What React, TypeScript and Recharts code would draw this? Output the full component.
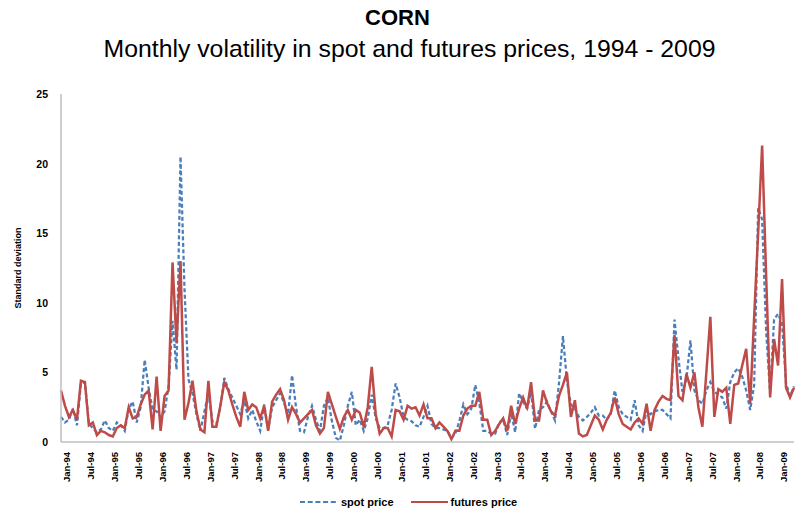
import React from 'react';
import { LineChart, Line, XAxis, YAxis } from 'recharts';

const monthNames = ['Jan', 'Feb', 'Mar', 'Apr', 'May', 'Jun', 'Jul', 'Aug', 'Sep', 'Oct', 'Nov', 'Dec'];
const yearLabels = ['94', '95', '96', '97', '98', '99', '00', '01', '02', '03', '04', '05', '06', '07', '08', '09'];

// monthly standard deviation, Jan-94 .. May-09
const spotPrice = [
  1.8, 1.4, 1.6, 2.4, 1.2, 4.2, 4.3, 1.3, 1.0, 0.7, 0.9, 1.55,
  1.0, 0.8, 1.4, 1.2, 0.8, 2.4, 2.9, 1.4, 2.5, 5.9, 3.9, 2.3,
  2.2, 1.8, 2.2, 4.0, 8.7, 5.2, 20.5, 11.0, 4.5, 3.5, 2.0, 0.8,
  2.2, 3.5, 1.5, 1.3, 2.5, 4.6, 3.8, 3.2, 2.6, 2.0, 3.0, 1.7,
  2.3, 1.5, 0.8, 2.7, 0.9, 2.5, 3.0, 3.5, 2.8, 2.0, 4.8, 2.5,
  0.8, 0.7, 1.8, 2.6, 1.6, 0.8, 2.6, 3.2, 1.5, 0.3, 0.1, 1.2,
  2.6, 3.6, 1.2, 1.6, 0.8, 1.7, 3.4, 1.7, 1.0, 1.0, 1.2, 2.3,
  4.2, 3.2, 1.8, 1.6, 1.5, 1.2, 1.1, 1.8, 2.6, 1.3, 1.0, 1.0,
  0.9, 0.8, 0.3, 0.6, 1.5, 2.7, 2.0, 2.4, 4.1, 2.8, 0.8, 0.8,
  0.6, 0.6, 1.4, 1.6, 0.5, 2.1, 0.7, 3.5, 2.9, 2.4, 3.6, 0.95,
  2.3, 2.5, 2.9, 2.2, 1.55, 4.2, 7.6, 4.4, 2.7, 2.4, 1.8, 1.55,
  1.8, 2.1, 2.5, 1.9, 1.9, 1.6, 2.0, 3.7, 2.5, 2.0, 1.8, 1.6,
  3.0, 1.2, 0.8, 2.3, 2.0, 2.2, 2.3, 2.3, 2.0, 1.7, 8.8, 6.0,
  3.6, 4.5, 7.3, 3.7, 3.0, 2.75, 3.7, 4.3, 3.6, 3.4, 3.2, 2.4,
  4.3, 5.0, 5.3, 4.7, 3.7, 2.3, 4.1, 16.8, 16.0, 8.0, 3.5, 8.8,
  9.2, 8.5, 4.2, 3.3, 4.0,
];

const futuresPrice = [
  3.7, 2.6, 1.8, 2.3, 1.6, 4.4, 4.3, 1.2, 1.4, 0.5, 0.8, 0.7,
  0.5, 0.4, 1.0, 1.2, 1.0, 2.5, 1.7, 1.8, 2.7, 3.4, 3.7, 0.9,
  4.7, 0.8, 3.3, 3.7, 12.9, 7.1, 13.0, 1.6, 2.8, 4.4, 2.2, 0.9,
  0.7, 4.4, 1.1, 1.1, 2.6, 4.3, 3.7, 2.7, 1.8, 1.1, 3.6, 2.3,
  2.7, 2.5, 1.7, 2.6, 0.8, 2.9, 3.4, 3.8, 3.0, 1.6, 2.5, 2.0,
  1.4, 1.7, 2.0, 2.3, 1.2, 0.6, 1.0, 3.6, 2.7, 1.8, 0.95, 1.8,
  2.3, 1.6, 2.3, 2.1, 1.1, 2.5, 5.4, 2.0, 0.6, 1.0, 1.0, 0.4,
  2.3, 2.2, 1.6, 2.6, 2.4, 2.5, 1.9, 2.7, 1.7, 1.7, 1.0, 1.4,
  1.1, 0.8, 0.2, 0.8, 0.8, 1.9, 2.4, 2.6, 2.6, 3.6, 1.6, 1.6,
  0.5, 0.8, 1.3, 1.7, 0.8, 2.6, 1.3, 2.4, 3.2, 2.4, 4.3, 1.55,
  1.55, 3.7, 2.8, 2.2, 1.9, 3.3, 4.1, 5.0, 1.8, 3.0, 0.6, 0.4,
  0.5, 1.2, 1.9, 1.6, 0.9, 1.6, 2.1, 3.2, 2.0, 1.3, 1.1, 0.9,
  1.4, 1.7, 1.3, 2.75, 0.8, 2.3, 2.9, 3.3, 3.1, 3.0, 7.7, 3.3,
  3.0, 4.9, 3.9, 5.0, 2.5, 1.1, 5.0, 9.0, 1.8, 3.8, 3.6, 3.9,
  1.3, 4.1, 4.2, 5.5, 6.7, 2.8, 9.0, 15.0, 21.3, 12.0, 3.2, 7.4,
  5.5, 11.7, 3.9, 3.2, 3.9,
];

const yTicks = [0, 5, 10, 15, 20, 25];

const categories = spotPrice.map((_, i) => `${monthNames[i % 12]}-${yearLabels[Math.floor(i / 12)]}`);
const chartData = categories.map((month, i) => ({ month, spot: spotPrice[i], futures: futuresPrice[i] }));

const SPOT_COLOR = '#4A7EBB';
const FUTURES_COLOR = '#BE4B48';
const FONT = '"Liberation Sans", Arial, sans-serif';

const XTick = ({ x, y, payload }: any) => {
  const tx = x + 6;
  const ty = y + 10;
  return (
    <text
      x={tx}
      y={ty}
      dy="0.35em"
      transform={`rotate(-90, ${tx}, ${ty})`}
      textAnchor="end"
      fontSize={9.5}
      fontWeight="bold"
      fontFamily={FONT}
      fill="#000"
    >
      {payload.value}
    </text>
  );
};

const YTick = ({ y, payload }: any) => (
  <text x={48} y={y} dy={4} textAnchor="end" fontSize={10.5} fontWeight="bold" fontFamily={FONT} fill="#000">
    {payload.value}
  </text>
);

export default function App() {
  return (
    <div style={{ position: 'absolute', left: 0, top: 0, width: 795, height: 511, background: '#fff', color: '#000', fontFamily: FONT }}>
      <div style={{ position: 'absolute', top: 7, left: 0, width: 795, textAlign: 'center', fontSize: 22, lineHeight: '22px', fontWeight: 'bold' }}>
        CORN
      </div>
      <div style={{ position: 'absolute', top: 36, left: 12, width: 795, textAlign: 'center', fontSize: 24.8, lineHeight: '25px' }}>
        Monthly volatility in spot and futures prices, 1994 - 2009
      </div>
      <div
        style={{
          position: 'absolute',
          left: 18,
          top: 268,
          transform: 'translate(-50%, -50%) rotate(-90deg)',
          fontSize: 9,
          fontWeight: 'bold',
          color: '#000',
          whiteSpace: 'nowrap',
        }}
      >
        Standard deviation
      </div>

      <LineChart width={795} height={511} data={chartData} margin={{ top: 94, right: 1, bottom: 0, left: 0 }}>
        <XAxis
          dataKey="month"
          interval={5}
          tickLine={false}
          tickSize={0}
          tickMargin={0}
          axisLine={{ stroke: '#BFBFBF', strokeWidth: 1.5 }}
          height={69}
          padding={{ left: 0, right: 0 }}
          tick={<XTick />}
        />
        <YAxis
          domain={[0, 25]}
          ticks={yTicks}
          width={61}
          tickLine={false}
          axisLine={{ stroke: '#BFBFBF', strokeWidth: 1.5 }}
          tick={<YTick />}
        />
        <Line
          type="linear"
          dataKey="spot"
          stroke={SPOT_COLOR}
          strokeWidth={2.25}
          strokeDasharray="4 2.5"
          dot={false}
          isAnimationActive={false}
        />
        <Line
          type="linear"
          dataKey="futures"
          stroke={FUTURES_COLOR}
          strokeWidth={2.5}
          dot={false}
          isAnimationActive={false}
        />
      </LineChart>

      <div style={{ position: 'absolute', top: 495, left: 300, display: 'flex', alignItems: 'center', fontSize: 11, fontWeight: 'bold', lineHeight: '14px' }}>
        <svg width={38} height={14}>
          <line x1={0} y1={7} x2={38} y2={7} stroke={SPOT_COLOR} strokeWidth={2} strokeDasharray="5 2.7" />
        </svg>
        <span style={{ marginLeft: 3 }}>spot price</span>
        <svg width={37} height={14} style={{ marginLeft: 17 }}>
          <line x1={0} y1={7} x2={37} y2={7} stroke={FUTURES_COLOR} strokeWidth={2} />
        </svg>
        <span style={{ marginLeft: 3 }}>futures price</span>
      </div>
    </div>
  );
}
